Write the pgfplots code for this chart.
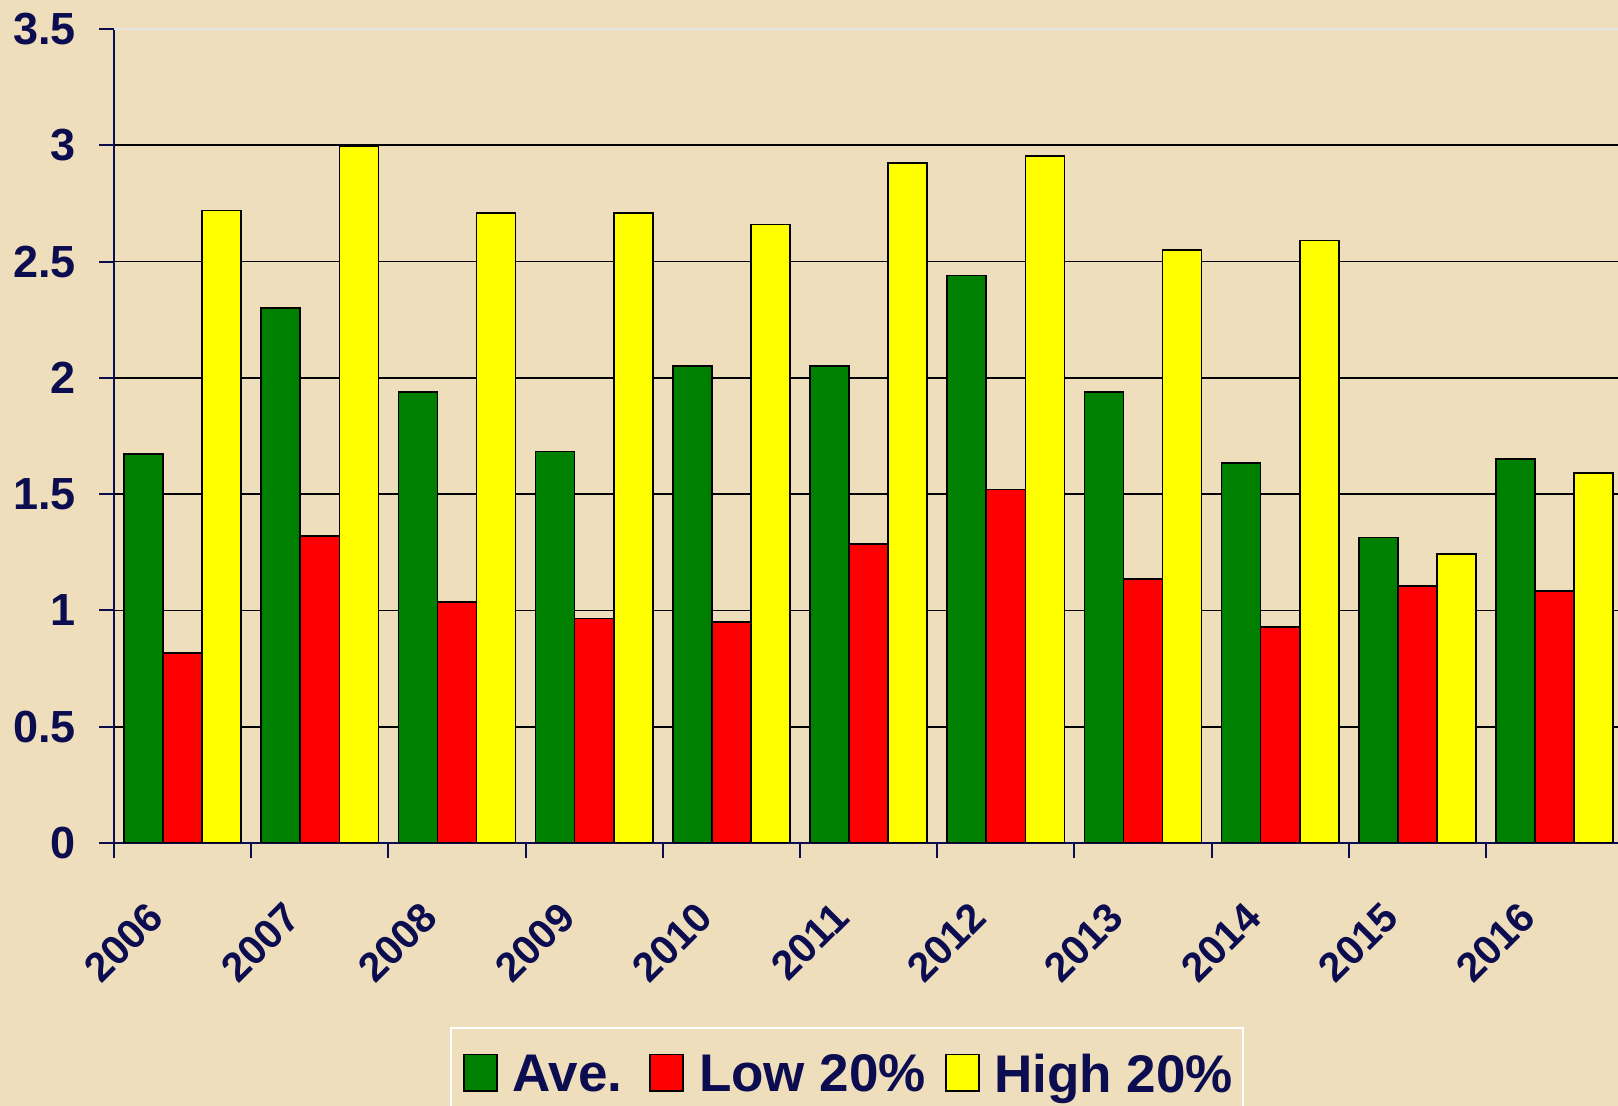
\documentclass[border=0pt]{standalone}
\usepackage{pgfplots}
\pgfplotsset{compat=1.18}
\usepackage{pgfplotstable}
\usepackage{fontspec}
\setmainfont{Liberation Sans}
\definecolor{navy}{RGB}{12,12,80}
\definecolor{bg}{RGB}{238,222,187}
\definecolor{cgreen}{RGB}{0,128,0}
\definecolor{cred}{RGB}{255,0,0}
\definecolor{cyellow}{RGB}{255,255,0}

\pgfplotstableread{
x ave low high
0 1.673 0.817 2.72
1 2.30 1.32 2.995
2 1.94 1.035 2.71
3 1.684 0.965 2.71
4 2.05 0.95 2.66
5 2.05 1.285 2.925
6 2.44 1.52 2.955
7 1.94 1.135 2.55
8 1.633 0.928 2.59
9 1.313 1.104 1.243
10 1.652 1.084 1.592
}\datatable

\begin{document}
\begin{tikzpicture}
\fill[bg] (0,0) rectangle (809pt,553pt);
\useasboundingbox (0,0) rectangle (809pt,553pt);
\begin{axis}[
  at={(57pt,131.5pt)}, anchor=south west,
  scale only axis, width=754.6pt, height=407pt,
  xmin=-0.5, xmax=10.5, ymin=0, ymax=3.5,
  axis lines*=left,
  axis line style={navy, line width=1pt, -},
  ybar=0pt, bar width=0.285,
  xtick={-0.5,0.5,...,9.5}, xticklabels={},
  extra x ticks={0,1,...,10},
  extra x tick labels={2006,2007,2008,2009,2010,2011,2012,2013,2014,2015,2016},
  extra x tick style={major tick length=0pt,
    xticklabel style={font=\fontsize{20.5}{24}\selectfont\bfseries, text=navy,
      anchor=east, xshift=-11pt, yshift=-31pt, rotate=45}},
  ytick={0,0.5,...,3.5},
  tick align=outside, major tick length=7.5pt,
  tick style={navy, line width=1pt},
  ymajorgrids, grid style={black, line width=0.8pt},
  yticklabel style={font=\fontsize{22.5}{27}\selectfont\bfseries, text=navy, xshift=-8pt},
  /pgf/number format/assume math mode=true,
  legend columns=3,
  legend style={at={(0.2226,-0.2257)}, anchor=north west, draw=white, line width=1pt,
    fill=none, font=\fontsize{26.5}{30}\selectfont\bfseries, text=navy,
    inner xsep=3pt, inner ysep=6pt,
    /tikz/every even column/.append style={column sep=0pt}},
  legend image code/.code={\path (0pt,0pt);
    \draw[#1, line width=0.9pt] (3pt,-8.3pt) rectangle (19.5pt,10pt);
    \path (25pt,17pt);},
]
\addplot[fill=cgreen, draw=black, line width=0.8pt] table[x=x, y=ave] {\datatable};
\addlegendentry{Ave.\hspace*{8.5pt}}
\addplot[fill=cred, draw=black, line width=0.8pt] table[x=x, y=low] {\datatable};
\addlegendentry{Low 20\%\hspace*{4.5pt}}
\addplot[fill=cyellow, draw=black, line width=0.8pt] table[x=x, y=high] {\datatable};
\addlegendentry{High 20\%}
\draw[white!80!gray, line width=1pt] (rel axis cs:0,1) -- (rel axis cs:1,1);
\end{axis}
\end{tikzpicture}
\end{document}
